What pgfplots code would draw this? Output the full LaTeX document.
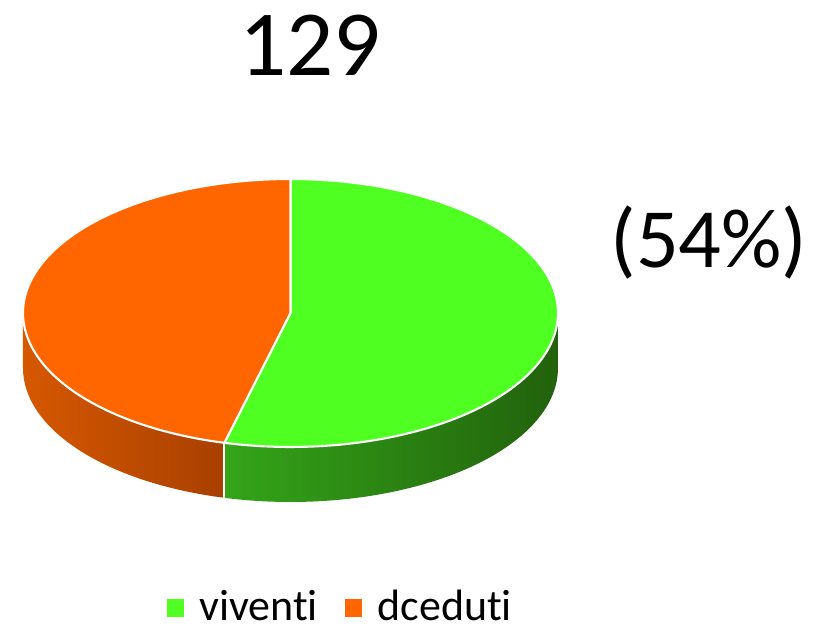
\documentclass[border=0pt]{standalone}
\usepackage{fontspec}
\setmainfont[Ligatures=NoCommon]{Carlito}
\usepackage{pgfplots}
\pgfplotsset{compat=1.18}
\usepackage{pgfplotstable}
\pgfplotstableread{
label value
viventi 129
dceduti 110
}\piedata
\pgfplotstablegetelem{0}{value}\of\piedata \let\va\pgfplotsretval
\pgfplotstablegetelem{1}{value}\of\piedata \let\vb\pgfplotsretval
\pgfmathsetmacro\fr{\va/(\va+\vb)}
\pgfmathsetmacro\ga{90-360*\fr}
\pgfmathsetmacro\gb{\ga+360}
\pgfmathsetmacro\dx{290.5+267.5*cos(\ga)}
\pgfmathsetmacro\dy{311+134*sin(\ga)}
\pgfmathsetmacro\dyb{\dy-55}
\definecolor{gtop}{RGB}{80,255,34}
\definecolor{otop}{RGB}{255,102,0}
\definecolor{gsideL}{RGB}{52,165,25}
\definecolor{gsideM}{RGB}{34,105,14}
\definecolor{gsideR}{RGB}{34,98,12}
\definecolor{osideL}{RGB}{214,88,0}
\definecolor{osideR}{RGB}{168,64,0}
\begin{document}
\begin{tikzpicture}
\begin{axis}[width=8.27cm, height=6.24cm, scale only axis,
  xmin=0, xmax=827, ymin=0, ymax=624, hide axis, clip=false,
  legend style={at={(axis cs:343,16)}, anchor=center, draw=none, fill=none,
    legend columns=2, font=\fontsize{12.5}{14}\selectfont,
    /tikz/every even column/.append style={column sep=0.2cm},
    /tikz/every odd column/.append style={column sep=0.08cm}},
  legend cell align=left]
\path (axis cs:0,0) rectangle (axis cs:827,624);
% sides
\addplot[forget plot, domain=180:\gb, samples=80, mark=none, draw=none,
  left color=osideL, right color=osideR]
  ({290.5+267.5*cos(x)},{311+134*sin(x)}) -- ++(0cm,-0.55cm)
  arc[start angle=\gb, end angle=180, x radius=2.675cm, y radius=1.34cm] -- cycle;
\addplot[forget plot, domain=\gb:360, samples=80, mark=none, draw=none,
  left color=gsideL, middle color=gsideM, right color=gsideR]
  ({290.5+267.5*cos(x)},{311+134*sin(x)}) -- ++(0cm,-0.55cm)
  arc[start angle=360, end angle=\gb, x radius=2.675cm, y radius=1.34cm] -- cycle;
\addplot[forget plot, white, line width=0.6pt, mark=none] coordinates {(\dx,\dy) (\dx,\dyb)};
% top
\addplot[forget plot, domain=\ga:90, samples=120, mark=none, fill=gtop, draw=white, line width=0.6pt]
  ({290.5+267.5*cos(x)},{311+134*sin(x)}) -- (290.5,311) -- cycle;
\addplot[forget plot, domain=90:\gb, samples=120, mark=none, fill=otop, draw=white, line width=0.6pt]
  ({290.5+267.5*cos(x)},{311+134*sin(x)}) -- (290.5,311) -- cycle;
\addlegendimage{legend image code/.code={\fill[gtop] (0cm,-0.08cm) rectangle (0.16cm,0.08cm);}}
\addlegendentry{viventi}
\addlegendimage{legend image code/.code={\fill[otop] (0cm,-0.08cm) rectangle (0.16cm,0.08cm);}}
\addlegendentry{dceduti}
\node at (axis cs:310,579) {\fontsize{26.5}{30}\selectfont 129};
\node at (axis cs:709,381) {\fontsize{24}{28}\selectfont (54\%)};
\end{axis}
\end{tikzpicture}
\end{document}
